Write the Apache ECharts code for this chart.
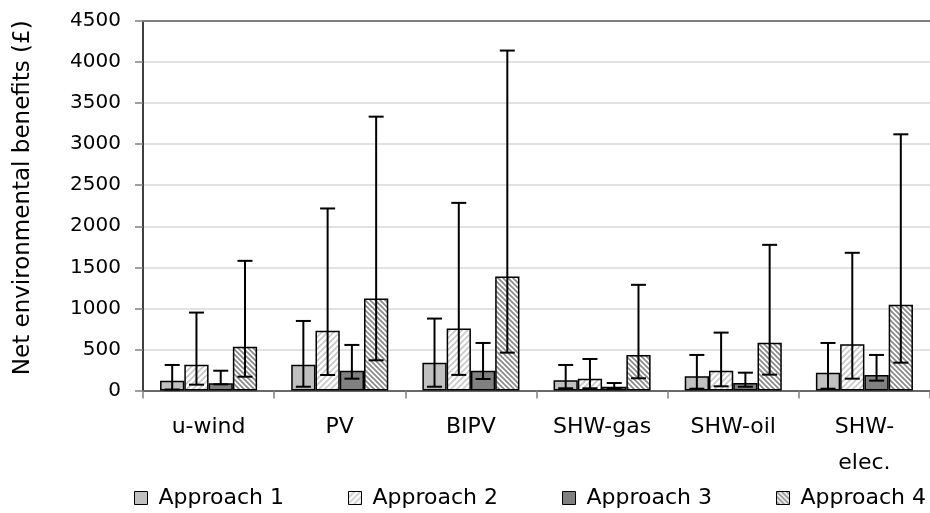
<!DOCTYPE html>
<html>
<head>
<meta charset="utf-8">
<script src="https://cdn.jsdelivr.net/npm/echarts@6/dist/echarts.min.js"></script>
<style>
html,body{margin:0;padding:0;background:#fff;}
#chart{width:930px;height:513px;}
</style>
</head>
<body>
<div id="chart"></div>
<script>
const categories = ['u-wind', 'PV', 'BIPV', 'SHW-gas', 'SHW-oil', 'SHW-elec.'];
const seriesNames = ['Approach 1', 'Approach 2', 'Approach 3', 'Approach 4'];
const approach1 = [120, 315, 337, 124, 173, 217];
const approach2 = [315, 729, 756, 144, 241, 563];
const approach3 = [88, 241, 241, 46, 91, 189];
const approach4 = [534, 1120, 1388, 433, 583, 1043];
const approach1High = [311, 847, 876, 311, 433, 579];
const approach2High = [949, 2217, 2285, 384, 705, 1677];
const approach3High = [241, 555, 579, 91, 217, 433];
const approach4High = [1579, 3335, 4140, 1287, 1774, 3120];
const approach1Low = [12, 46, 46, 27, 22, 22];
const approach2Low = [71, 189, 190, 27, 51, 144];
const approach3Low = [75, 144, 140, 30, 46, 120];
const approach4Low = [168, 368, 461, 149, 193, 339];
const yTicks = [0, 500, 1000, 1500, 2000, 2500, 3000, 3500, 4000, 4500];

const values = [approach1, approach2, approach3, approach4];
const highs = [approach1High, approach2High, approach3High, approach4High];
const lows = [approach1Low, approach2Low, approach3Low, approach4Low];

function hatch(size, bg, fg, lw, dir) {
  const c = document.createElement('canvas');
  c.width = size; c.height = size;
  const g = c.getContext('2d');
  g.fillStyle = bg; g.fillRect(0, 0, size, size);
  g.strokeStyle = fg; g.lineWidth = lw;
  g.beginPath();
  if (dir === '/') {
    g.moveTo(-1, size + 1); g.lineTo(size + 1, -1);
    g.moveTo(-1, 1); g.lineTo(1, -1);
    g.moveTo(size - 1, size + 1); g.lineTo(size + 1, size - 1);
  } else {
    g.moveTo(-1, -1); g.lineTo(size + 1, size + 1);
    g.moveTo(size - 1, -1); g.lineTo(size + 1, 1);
    g.moveTo(-1, size - 1); g.lineTo(1, size + 1);
  }
  g.stroke();
  return c;
}

const fills = [
  '#c0c0c0',
  { image: hatch(6, '#ffffff', '#c8c8c8', 1.6, '/'), repeat: 'repeat' },
  '#808080',
  { image: hatch(5, '#ffffff', '#8a8a8a', 1.7, '\\'), repeat: 'repeat' }
];

const CAT_GAP = 0.26;
const FONT = 'DejaVu Sans';

const series = [];
seriesNames.forEach((name, k) => {
  series.push({
    name: name,
    type: 'bar',
    data: values[k],
    barGap: '0%',
    barCategoryGap: (CAT_GAP * 100) + '%',
    itemStyle: { color: fills[k], borderColor: '#000', borderWidth: 1.5 },
    z: 2
  });
});
seriesNames.forEach((name, k) => {
  series.push({
    name: 'err' + k,
    type: 'custom',
    z: 5,
    data: categories.map((c, i) => [i, lows[k][i], highs[k][i]]),
    encode: { x: 0, y: [1, 2] },
    renderItem: function (params, api) {
      const ci = api.value(0);
      const lo = api.coord([ci, api.value(1)]);
      const hi = api.coord([ci, api.value(2)]);
      const band = api.size([1, 0])[0];
      const bw = band * (1 - CAT_GAP) / 4;
      const x = lo[0] + (k - 1.5) * bw;
      const half = 7.5;
      const st = { stroke: '#000', lineWidth: 2 };
      return {
        type: 'group',
        children: [
          { type: 'line', shape: { x1: x, y1: lo[1], x2: x, y2: hi[1] }, style: st },
          { type: 'line', shape: { x1: x - half, y1: hi[1], x2: x + half, y2: hi[1] }, style: st },
          { type: 'line', shape: { x1: x - half, y1: lo[1], x2: x + half, y2: lo[1] }, style: st }
        ]
      };
    }
  });
});

const chart = echarts.init(document.getElementById('chart'), null, { renderer: 'canvas' });
chart.setOption({
  animation: false,
  backgroundColor: '#fff',
  textStyle: { fontFamily: FONT },
  grid: { left: 143, top: 21, right: -12, bottom: 122.5 },
  legend: {
    data: seriesNames,
    left: 134,
    top: 487,
    padding: 0,
    itemWidth: 13,
    itemHeight: 13,
    itemGap: 64,
    icon: 'rect',
    itemStyle: { borderColor: '#000', borderWidth: 1 },
    textStyle: { fontFamily: FONT, fontSize: 22, color: '#000', padding: [0, 0, 0, 6] }
  },
  xAxis: [{
    type: 'category',
    data: categories,
    position: 'bottom',
    axisLine: { lineStyle: { color: '#404040', width: 1.5 } },
    axisTick: { show: true, length: 8, lineStyle: { color: '#808080', width: 1.5 } },
    axisLabel: {
      interval: 0, margin: 19, fontFamily: FONT, fontSize: 22, color: '#000', lineHeight: 36,
      formatter: v => v === 'SHW-elec.' ? 'SHW-\nelec.' : v
    }
  }, {
    type: 'category',
    data: categories,
    position: 'top',
    axisLine: { lineStyle: { color: '#808080', width: 2 } },
    axisTick: { show: false },
    axisLabel: { show: false }
  }],
  yAxis: {
    type: 'value',
    min: yTicks[0],
    max: yTicks[yTicks.length - 1],
    interval: yTicks[1] - yTicks[0],
    name: 'Net environmental benefits (£)',
    nameLocation: 'middle',
    nameGap: 108,
    nameTextStyle: { fontFamily: FONT, fontSize: 23, color: '#000', padding: [0, 0, 0, 16] },
    axisLine: { show: true, lineStyle: { color: '#000', width: 1.5 } },
    axisTick: { show: true, length: 8, lineStyle: { color: '#808080', width: 1.5 } },
    axisLabel: { margin: 22, fontFamily: FONT, fontSize: 20, color: '#000', formatter: v => String(v) },
    splitLine: { show: true, lineStyle: { color: '#d9d9d9', width: 1.5 } }
  },
  series: series
});
</script>
</body>
</html>
